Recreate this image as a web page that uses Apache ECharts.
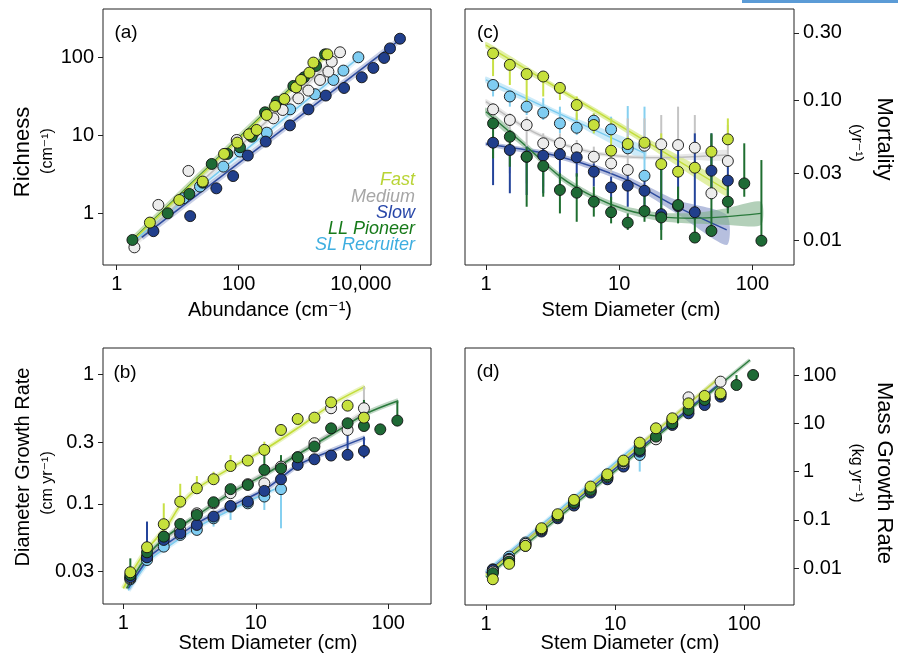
<!DOCTYPE html>
<html><head><meta charset="utf-8">
<script src="https://cdn.jsdelivr.net/npm/echarts@6/dist/echarts.min.js"></script>
<style>html,body{margin:0;padding:0;background:#fff}#c{width:898px;height:659px}</style>
</head><body><div id="c"></div>
<script>
const L = Math.log10;
// ---------- Panel (a): richness vs abundance ----------
const aFastAbund = [3.5, 10.6, 25.7, 57.5, 95, 148, 197, 288, 394, 561, 871, 1052, 1440, 1675, 2840];
const aFastRich  = [0.76, 1.48, 2.55, 5.77, 8.05, 10.3, 11.7, 18.2, 23.8, 29.2, 41.2, 51.2, 63.6, 85.5, 109];
const aLLAbund = [1.81, 6.86, 15.5, 25.7, 36.1, 65.2, 105, 163, 270, 420, 787, 1178, 1853, 2600];
const aLLRich  = [0.455, 1.0, 1.77, 2.47, 4.29, 5.77, 7.02, 9.6, 19.7, 27, 42.9, 55.4, 77.4, 109];
const aMedAbund = [1.95, 4.82, 15.0, 92.7, 174, 370, 526, 951, 1387, 2153, 2951, 3350, 4580];
const aMedRich  = [0.366, 1.28, 3.49, 8.71, 10.6, 16.5, 21.1, 29.8, 37.4, 51.2, 65.5, 88, 116];
const aSlowAbund = [4, 16, 43, 81, 141, 277, 692, 1390, 2670, 5330, 10400, 16100, 24200, 30200, 44000];
const aSlowRich  = [0.59, 0.92, 2.09, 3.0, 5.5, 8.3, 13.4, 21.5, 32.3, 40.4, 55.4, 73, 98, 130, 173];
const aSLAbund = [12.4, 23.2, 56, 105, 288, 695, 1783, 3565, 5200, 9160];
const aSLRich  = [1.56, 2.2, 3.97, 6.18, 10.8, 21.5, 33.6, 51.2, 67.5, 100];
// fitted lines (a): endpoints
const aFastFitX = [2.0, 3140],  aFastFitY = [0.479, 118];
const aLLFitX   = [1.81, 2770], aLLFitY   = [0.455, 112];
const aMedFitX  = [1.87, 4580], aMedFitY  = [0.393, 112];
const aSlowFitX = [2.57, 46800], aSlowFitY = [0.492, 175];
const aSLFitX   = [1.87, 9750], aSLFitY   = [0.434, 102];

// ---------- shared stem diameter bins (cm) ----------
const diam = [1.13, 1.51, 2.02, 2.69, 3.59, 4.8, 6.45, 8.7, 11.6, 15.5, 20.7, 27.7, 37, 49.3, 65.5, 87, 117];

// ---------- Panel (b): diameter growth rate ----------
const bFast = [0.0297,0.0463,0.0697,0.104,0.132,0.155,0.196,0.216,0.261,0.372,0.452,0.463,0.608,0.573,0.463];
const bFastHi = [null,null,0.101,0.143,0.164,0.177,0.238,null,0.302,null,null,null,null,null,null];
const bMed = [0.0267,0.0392,0.0559,0.063,0.0846,0.101,0.121,0.142,0.144,0.194,0.229,0.294,0.547,0.372,0.547];
const bMedHi = [null,0.073,null,null,null,null,null,null,0.177,null,null,null,null,0.431,0.803];
const bSlow = [0.0272,0.0387,0.0527,0.0593,0.0688,0.0798,0.0964,0.104,0.126,0.155,0.2,0.221,0.236,0.239,0.256];
const bSlowLo = [null,null,null,null,null,null,null,null,null,null,null,null,null,null,0.225];
const bSlowHi = [null,0.073,null,null,null,null,null,null,null,null,null,null,0.261,0.361,0.330];
const bLL = [0.0283,0.0423,0.0559,0.07,0.0822,0.103,0.130,0.140,0.183,0.188,0.229,0.277,0.383,0.419,0.399,0.376,0.439];
const bLLLo = [0.0259,null,null,null,null,null,null,null,null,null,null,null,null,null,null,null,null];
const bLLHi = [0.038,null,null,null,null,null,null,null,0.238,0.238,null,null,null,null,0.634,null,0.615];
const bSL = [0.0262,0.0369,0.0468,0.0576,0.063,0.0774,0.0953,0.101,0.114,0.130];
const bSLLo = [null,null,null,null,null,0.0668,0.0752,null,0.0898,0.0648];
const bFastFitD = [1.0,1.19,1.5,2.12,2.76,3.79,6.76,12.1,21.5,38.5,66.7];
const bFastFit  = [0.0223,0.0309,0.0441,0.0668,0.101,0.136,0.194,0.269,0.395,0.597,0.803];
const bLLFitD = [1.06,1.5,2.12,3.79,6.76,12.1,21.5,38.5,68.6,119];
const bLLFit  = [0.0223,0.0392,0.0559,0.0846,0.1244,0.172,0.246,0.3505,0.5,0.626];
const bMedFitD = [1.06,1.5,2.12,3.79,6.76,12.1,21.5,38.5,66.7];
const bMedFit  = [0.0223,0.0385,0.0545,0.0846,0.126,0.176,0.25,0.36,0.52];
const bSlowFitD = [1.09,1.59,2.12,3.79,6.76,12.1,21.5,38.5,66.7];
const bSlowFit  = [0.0223,0.0392,0.049,0.073,0.0981,0.132,0.203,0.261,0.3246];
const bSLFitD = [1.09,1.59,2.12,3.79,6.76,12.1,15.4];
const bSLFit  = [0.0215,0.037,0.046,0.068,0.092,0.122,0.135];

// ---------- Panel (c): mortality ----------
const cFast   = [0.215,0.178,0.153,0.147,0.122,0.0921,0.0664,0.0436,0.0486,0.0497,0.0350,0.0309,0.0330,0.0429,0.0525];
const cFastLo = [0.148,0.128,0.0947,0.106,0.1,0.0721,0.0579,0.0395,0.0441,0.0453,0.0335,0.0285,0.0301,0.0395,0.0492];
const cFastHi = [0.227,0.187,0.162,0.155,0.129,0.106,0.0804,0.074,0.0548,0.0534,0.0579,0.0335,0.0374,0.0563,0.074];
const cMed   = [0.0858,0.0721,0.0664,0.0492,0.0492,0.0448,0.0395,0.0354,0.0318,0.0473,0.0484,0.0478,0.0458,0.0217,0.0368];
const cMedLo = [0.0761,0.0301,0.0255,0.0242,0.0395,0.0395,0.0335,0.0301,0.0285,0.0441,0.0453,0.0441,0.0417,0.0194,0.0335];
const cMedHi = [0.0947,0.0804,0.0761,0.0579,0.0579,0.0519,0.0466,0.0417,0.074,0.074,0.0782,0.0897,0.0782,0.0466,0.0664];
const cSlow   = [0.0497,0.0441,0.0395,0.0402,0.0411,0.0391,0.0309,0.0239,0.0246,0.0226,0.0154,0.0176,0.0159,0.0314,0.0267];
const cSlowLo = [0.0248,0.0217,0.0211,0.0217,0.0242,0.0285,0.0242,0.0194,0.0174,0.0165,0.0119,0.0148,0.014,0.0229,0.0165];
const cSlowHi = [0.0548,0.0492,0.0466,0.0466,0.0466,0.0441,0.0354,0.0285,0.0301,0.027,0.0466,0.0466,0.0579,0.0579,0.0345];
const cLL   = [0.0682,0.0548,0.0395,0.0339,0.0229,0.0219,0.0189,0.0159,0.0134,0.0162,0.0146,0.0179,0.0105,0.0117,0.0189,0.0255,0.00997];
const cLLLo = [0.0384,0.0335,0.0174,0.0205,0.0156,0.0136,0.0148,0.01325,0.0119,0.0136,0.0101,0.01325,0.0104,0.0107,0.0156,0.0205,0.00997];
const cLLHi = [0.0761,0.0612,0.0466,0.0395,0.0301,0.0301,0.0242,0.0205,0.0156,0.0242,0.0374,0.0242,0.0174,0.0579,0.0285,0.0492,0.0374];
const cSL   = [0.128,0.106,0.0897,0.0812,0.0682,0.0635,0.0713,0.0618,0.0453,0.0289];
const cSLLo = [0.106,0.0897,0.0782,0.0721,0.0579,0.0563,0.0579,0.0534,0.0417,0.027];
const cSLHi = [0.139,0.118,0.1,0.103,0.0897,0.0804,0.0804,0.0761,0.0906,0.0897];
const cFastFitD = [1.0,3.6,13,64], cFastFit = [0.246,0.1187,0.057,0.0229];
const cFastFitLo = [0.233,0.113,0.0539,0.0206], cFastFitHi = [0.260,0.124,0.0603,0.0254];
const cSLFitD = [1.0,4.0,15.6], cSLFit = [0.139,0.0758,0.0417];
const cSLFitLo = [0.1315,0.0725,0.0374], cSLFitHi = [0.147,0.0792,0.0465];
const cMedFitD = [1,2.02,3.6,6.4,11.4,20.3,36.1,64.2];
const cMedFit   = [0.0973,0.0629,0.0492,0.0422,0.0395,0.0389,0.0395,0.0406];
const cMedFitLo = [0.0931,0.0605,0.0476,0.0408,0.0382,0.0375,0.0375,0.0374];
const cMedFitHi = [0.1017,0.0654,0.0508,0.0436,0.0408,0.0403,0.0416,0.0441];
const cSlowFitD = [1,3.6,11.4,27,64.2];
const cSlowFit   = [0.0486,0.0395,0.027,0.0174,0.0119];
const cSlowFitLo = [0.0470,0.0378,0.0255,0.0156,0.0093];
const cSlowFitHi = [0.0502,0.0413,0.0287,0.0194,0.0152];
const cLLFitD = [1,2.02,3.6,6.4,11.4,20.3,36.1,64.2,116];
const cLLFit   = [0.0826,0.0466,0.0285,0.0205,0.0165,0.0148,0.0144,0.0148,0.0156];
const cLLFitLo = [0.0773,0.0441,0.0270,0.0194,0.0156,0.0138,0.0132,0.0129,0.0129];
const cLLFitHi = [0.0882,0.0492,0.0301,0.0216,0.0175,0.0158,0.0157,0.0170,0.0189];

// ---------- Panel (d): mass growth rate ----------
const dFast = [0.0059,0.0123,0.029,0.0672,0.131,0.26,0.49,0.88,1.69,3.98,7.88,12.7,25.9,36.8,41.8];
const dSlow = [0.00925,0.0156,0.0318,0.0574,0.108,0.198,0.368,0.693,1.27,2.59,4.9,9.24,16.1,23.9,35.6];
const dLL = [0.0079,0.0137,0.029,0.0641,0.121,0.229,0.418,0.789,1.61,2.81,5.3,10,18.9,30.4,39.8,62,100];
const dLLHi = [null,null,null,null,null,null,null,null,null,null,null,null,null,null,null,100,null];
const dMed = [0.0085,0.0149,0.0318,0.062,0.117,0.221,0.404,0.764,1.49,3.39,4.66,11.7,34.5,33,72.8];
const dSL = [0.0095,0.0174,0.034,0.062,0.117,0.221,0.385,0.728,1.31,2.21];
const dSLLo = [null,null,null,null,null,null,null,null,null,1.0];
const dSLHi = [null,null,null,null,null,null,null,null,null,4.52];
const dFastFitD = [1.0,64.8], dFastFit = [0.00728,89.5];
const dLLFitD = [1.0,110.6], dLLFit = [0.00652,204];
const dSlowFitD = [1.0,65.9], dSlowFit = [0.00788,69.4];
const dMedFitD = [1.0,65.9], dMedFit = [0.00788,92.4];
const dSLFitD = [1.0,15.6], dSLFit = [0.00853,4.18];

// ---------- tick labels ----------
const aXTicks = [1,100,10000], aXLabels = ['1','100','10,000'];
const aYTicks = [1,10,100], aYLabels = ['1','10','100'];
const dbhTicks = [1,10,100], dbhLabels = ['1','10','100'];
const bYTicks = [0.03,0.1,0.3,1], bYLabels = ['0.03','0.1','0.3','1'];
const cYTicks = [0.01,0.03,0.1,0.3], cYLabels = ['0.01','0.03','0.10','0.30'];
const dYTicks = [0.01,0.1,1,10,100], dYLabels = ['0.01','0.1','1','10','100'];

const groupNames = ['Fast','Medium','Slow','LL Pioneer','SL Recruiter'];

// ---------- styling ----------
const FONT = '"Liberation Sans", "DejaVu Sans", Arial, sans-serif';
const C = {
  fast: {fill:'#c6e03c', line:'#c3dd3a', band:'#d6ea80', err:'#c8e045', text:'#b9d436'},
  med:  {fill:'#ececec', line:'#bdbdbd', band:'#d9d9d9', err:'#c4c4c4', text:'#a6a6a6'},
  slow: {fill:'#213f8c', line:'#2d4b9e', band:'#8595c8', err:'#24449a', text:'#2746a8'},
  ll:   {fill:'#1e6a35', line:'#2a7a3c', band:'#80b08a', err:'#1f6e30', text:'#177a1a'},
  sl:   {fill:'#7fcdf2', line:'#78caef', band:'#b7e2f6', err:'#86d0f0', text:'#3eaee0'}
};

function axis(idx, pos, min, max, ticks, labels, margin) {
  const vals = ticks.map(L);
  return {
    type:'value', gridIndex:idx, position:pos, min, max, scale:true,
    splitLine:{show:false}, axisLine:{show:false, onZero:false},
    axisTick:{show:true, customValues:vals, length:5, inside:false, lineStyle:{color:'#222', width:1}},
    axisLabel:{show:true, customValues:vals, margin, color:'#000', fontSize:20, fontFamily:FONT,
      formatter:(v)=>{ const i = vals.findIndex(t=>Math.abs(t-v)<1e-6); return i>=0 ? labels[i] : ''; }}
  };
}

function pts(p, xs, ys, col, z) {
  return {type:'scatter', xAxisIndex:p, yAxisIndex:p, z, symbol:'circle', symbolSize:11, silent:true,
    data: ys.map((y,i)=>[L(xs[i]), L(y)]),
    itemStyle:{color:col.fill, borderColor:'#111', borderWidth:0.9, opacity:1}};
}
function fit(p, xs, ys, col, w, smooth, z) {
  return {type:'line', xAxisIndex:p, yAxisIndex:p, z:z||2, symbol:'none', showSymbol:false, silent:true,
    smooth: smooth||false, data: xs.map((x,i)=>[L(x), L(ys[i])]), lineStyle:{color:col.line, width:w}};
}
function halo(p, xs, ys, col, w, op) {
  return {type:'line', xAxisIndex:p, yAxisIndex:p, z:1, symbol:'none', showSymbol:false, silent:true,
    smooth:0.3, data: xs.map((x,i)=>[L(x), L(ys[i])]), lineStyle:{color:col.band, width:w, opacity:op}};
}
function band(p, xs, lo, hi, col, op) {
  const rows = xs.map((x,i)=>[L(x), L(lo[i]), L(hi[i])]);
  return {type:'custom', xAxisIndex:p, yAxisIndex:p, z:1, clip:true, silent:true, data:[rows[0]],
    renderItem:(params, api)=>{
      const up = rows.map(r=>api.coord([r[0], r[2]]));
      const dn = rows.map(r=>api.coord([r[0], r[1]])).reverse();
      return {type:'polygon', shape:{points: up.concat(dn), smooth:0.25}, style:{fill:col.band, opacity:op}};
    }};
}
function err(p, xs, mid, lo, hi, col) {
  const data = [];
  mid.forEach((m,i)=>{
    const a = (lo && lo[i]!=null) ? lo[i] : m;
    const b = (hi && hi[i]!=null) ? hi[i] : m;
    if (a !== b) data.push([L(xs[i]), L(a), L(b)]);
  });
  return {type:'custom', xAxisIndex:p, yAxisIndex:p, z:3, clip:true, silent:true, data,
    renderItem:(params, api)=>{
      const p1 = api.coord([api.value(0), api.value(1)]);
      const p2 = api.coord([api.value(0), api.value(2)]);
      return {type:'line', shape:{x1:p1[0], y1:p1[1], x2:p2[0], y2:p2[1]}, style:{stroke:col.err, lineWidth:2}};
    }};
}

const series = [];
// (a) index 0
[[aSLFitX,aSLFitY,C.sl],[aMedFitX,aMedFitY,C.med],[aSlowFitX,aSlowFitY,C.slow],[aLLFitX,aLLFitY,C.ll],[aFastFitX,aFastFitY,C.fast]]
  .forEach(([x,y,c])=>{ series.push(halo(0,x,y,c,6,0.45)); series.push(fit(0,x,y,c,1.6)); });
series.push(pts(0,aSLAbund,aSLRich,C.sl,10));
series.push(pts(0,aMedAbund,aMedRich,C.med,11));
series.push(pts(0,aSlowAbund,aSlowRich,C.slow,12));
series.push(pts(0,aLLAbund,aLLRich,C.ll,13));
series.push(pts(0,aFastAbund,aFastRich,C.fast,14));

// (b) index 1
[[bSLFitD,bSLFit,C.sl],[bMedFitD,bMedFit,C.med],[bSlowFitD,bSlowFit,C.slow],[bLLFitD,bLLFit,C.ll],[bFastFitD,bFastFit,C.fast]]
  .forEach(([x,y,c])=>{ series.push(halo(1,x,y,c,5,0.5)); series.push(fit(1,x,y,c,1.6,0.3)); });
series.push(err(1,diam,bSL,bSLLo,null,C.sl));
series.push(err(1,diam,bMed,null,bMedHi,C.med));
series.push(err(1,diam,bSlow,bSlowLo,bSlowHi,C.slow));
series.push(err(1,diam,bLL,bLLLo,bLLHi,C.ll));
series.push(err(1,diam,bFast,null,bFastHi,C.fast));
series.push(pts(1,diam,bSL,C.sl,10));
series.push(pts(1,diam,bMed,C.med,11));
series.push(pts(1,diam,bSlow,C.slow,12));
series.push(pts(1,diam,bLL,C.ll,13));
series.push(pts(1,diam,bFast,C.fast,14));

// (c) index 2
series.push(band(2,cSLFitD,cSLFitLo,cSLFitHi,C.sl,0.7));
series.push(band(2,cMedFitD,cMedFitLo,cMedFitHi,C.med,0.6));
series.push(band(2,cSlowFitD,cSlowFitLo,cSlowFitHi,C.slow,0.6));
series.push(band(2,cLLFitD,cLLFitLo,cLLFitHi,C.ll,0.6));
series.push(band(2,cFastFitD,cFastFitLo,cFastFitHi,C.fast,0.7));
series.push(fit(2,cSLFitD,cSLFit,C.sl,1.4,0.3));
series.push(fit(2,cMedFitD,cMedFit,C.med,1.4,0.3));
series.push(fit(2,cSlowFitD,cSlowFit,C.slow,1.4,0.3));
series.push(fit(2,cLLFitD,cLLFit,C.ll,1.4,0.3));
series.push(fit(2,cFastFitD,cFastFit,C.fast,1.4,0.3));
series.push(err(2,diam,cSL,cSLLo,cSLHi,C.sl));
series.push(err(2,diam,cMed,cMedLo,cMedHi,C.med));
series.push(err(2,diam,cFast,cFastLo,cFastHi,C.fast));
series.push(err(2,diam,cSlow,cSlowLo,cSlowHi,C.slow));
series.push(err(2,diam,cLL,cLLLo,cLLHi,C.ll));
series.push(pts(2,diam,cSL,C.sl,10));
series.push(pts(2,diam,cMed,C.med,11));
series.push(pts(2,diam,cFast,C.fast,12));
series.push(pts(2,diam,cSlow,C.slow,13));
series.push(pts(2,diam,cLL,C.ll,14));

// (d) index 3
[[dSLFitD,dSLFit,C.sl],[dMedFitD,dMedFit,C.med],[dSlowFitD,dSlowFit,C.slow],[dLLFitD,dLLFit,C.ll],[dFastFitD,dFastFit,C.fast]]
  .forEach(([x,y,c])=>{ series.push(halo(3,x,y,c,4,0.5)); series.push(fit(3,x,y,c,1.4)); });
series.push(err(3,diam,dSL,dSLLo,dSLHi,C.sl));
series.push(err(3,diam,dLL,null,dLLHi,C.ll));
series.push(pts(3,diam,dSL,C.sl,10));
series.push(pts(3,diam,dSlow,C.slow,11));
series.push(pts(3,diam,dMed,C.med,12));
series.push(pts(3,diam,dLL,C.ll,13));
series.push(pts(3,diam,dFast,C.fast,14));

const gridBase = {show:true, borderColor:'#222', borderWidth:1, backgroundColor:'rgba(0,0,0,0)', containLabel:false};
function txt(text, x, y, size, opts) {
  opts = opts || {};
  return {type:'text', x, y, rotation: opts.rot || 0, z:100, silent:true,
    style:{text, fontSize:size, fontFamily:FONT, fontStyle: opts.italic ? 'italic' : 'normal',
      fill: opts.color || '#000', align: opts.align || 'center', verticalAlign:'middle',
      textAlign: opts.align || 'center', textVerticalAlign:'middle'}};
}
const legCols = [C.fast.text, C.med.text, C.slow.text, C.ll.text, C.sl.text];
const legY = [180, 196.5, 212.5, 229, 245];

const option = {
  animation:false,
  backgroundColor:'#fff',
  grid:[
    Object.assign({left:103, top:9, width:328, height:256}, gridBase),
    Object.assign({left:103, top:348, width:328, height:256}, gridBase),
    Object.assign({left:465, top:9, width:329, height:256}, gridBase),
    Object.assign({left:465, top:348, width:329, height:257}, gridBase)
  ],
  xAxis:[
    axis(0,'bottom',-0.2246,5.152,aXTicks,aXLabels,9),
    axis(1,'bottom',-0.1532,2.3223,dbhTicks,dbhLabels,9),
    axis(2,'bottom',-0.1577,2.313,dbhTicks,dbhLabels,9),
    axis(3,'bottom',-0.1626,2.3848,dbhTicks,dbhLabels,9)
  ],
  yAxis:[
    axis(0,'left',-0.663,2.619,aYTicks,aYLabels,9),
    axis(1,'left',-1.7724,0.2029,bYTicks,bYLabels,9),
    axis(2,'right',-2.174,-0.3523,cYTicks,cYLabels,9),
    axis(3,'right',-2.762,2.559,dYTicks,dYLabels,9)
  ],
  series,
  graphic:[
    {type:'rect', shape:{x:742, y:0, width:156, height:3}, style:{fill:'#5b9bd6'}, silent:true, z:100},
    txt('(a)', 126, 33, 19),
    txt('(b)', 125, 373, 19),
    txt('(c)', 488, 33, 19),
    txt('(d)', 488, 372, 19),
    txt('Richness', 23, 152, 22, {rot:Math.PI/2}),
    txt('(cm\u207B\u00B9)', 48, 151, 16, {rot:Math.PI/2}),
    txt('Diameter Growth Rate', 23, 467, 20, {rot:Math.PI/2}),
    txt('(cm yr\u207B\u00B9)', 48, 483, 16, {rot:Math.PI/2}),
    txt('Mortality', 884, 139, 22, {rot:-Math.PI/2}),
    txt('(yr\u207B\u00B9)', 856, 143, 16, {rot:-Math.PI/2}),
    txt('Mass Growth Rate', 884, 473, 22, {rot:-Math.PI/2}),
    txt('(kg yr\u207B\u00B9)', 856, 473, 16, {rot:-Math.PI/2}),
    txt('Abundance (cm\u207B\u00B9)', 270, 310, 20),
    txt('Stem Diameter (cm)', 631, 310, 20),
    txt('Stem Diameter (cm)', 268, 643, 20),
    txt('Stem Diameter (cm)', 630, 643, 20)
  ].concat(groupNames.map((n,i)=>txt(n, 415, legY[i], 18, {italic:true, align:'right', color:legCols[i]})))
};
const chart = echarts.init(document.getElementById('c'));
chart.setOption(option);
</script></body></html>
